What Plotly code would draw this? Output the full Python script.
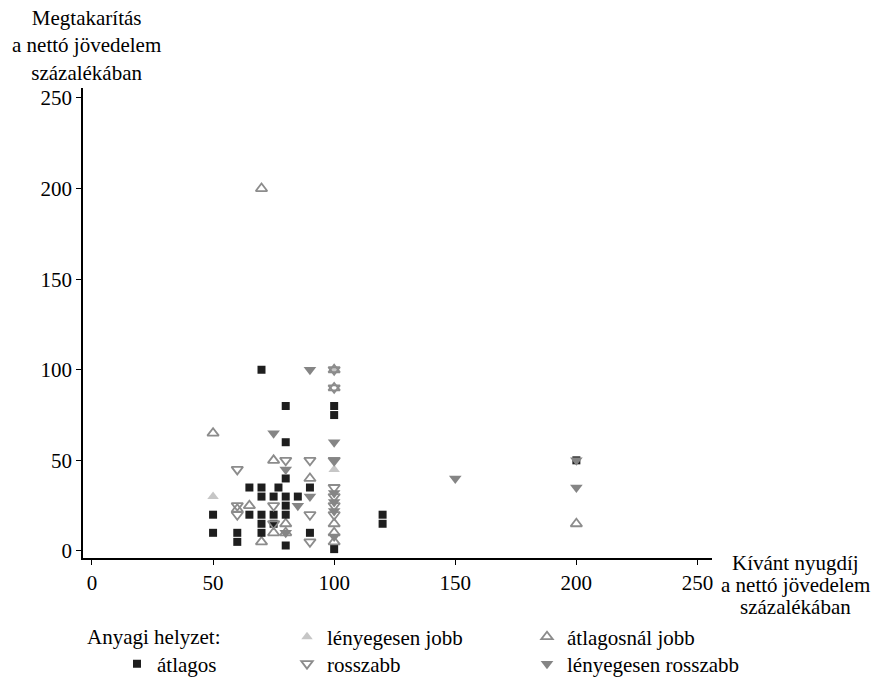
import plotly.graph_objects as go

# ---- data ----
lenyeg_jobb_x = [50, 100, 100]
lenyeg_jobb_y = [30, 45, 100]

atl_jobb_x = [50, 60, 65, 70, 70, 75, 75, 80, 80, 90, 100, 100, 100, 100, 100, 200]
atl_jobb_y = [65, 23, 25, 200, 5, 50, 10, 15, 10, 40, 100, 90, 15, 10, 5, 15]

atlagos_x = [50, 50, 60, 60, 65, 65, 70, 70, 70, 70, 70, 70, 75, 75, 75, 77,
             80, 80, 80, 80, 80, 80, 80, 85, 90, 90, 100, 100, 100, 120, 120, 200]
atlagos_y = [20, 10, 10, 5, 35, 20, 100, 35, 30, 20, 15, 10, 30, 20, 15, 35,
             80, 60, 40, 30, 25, 20, 3, 30, 35, 10, 80, 75, 1, 20, 15, 50]

rosszabb_x = [60, 60, 60, 75, 75, 80, 90, 90, 90, 100, 100, 100, 100, 100, 100, 100]
rosszabb_y = [45, 25, 20, 25, 15, 50, 50, 20, 5, 100, 90, 50, 35, 30, 25, 20]

lenyeg_rossz_x = [75, 80, 80, 85, 90, 90, 100, 100, 100, 100, 100, 100, 150, 200, 200]
lenyeg_rossz_y = [65, 45, 10, 25, 100, 30, 60, 50, 32, 27, 22, 8, 40, 50, 35]

ticks = [0, 50, 100, 150, 200, 250]
x_title_lines = ["Kívánt nyugdíj", "a nettó jövedelem", "százalékában"]

FONT = "Liberation Serif"
FS = 21

fig = go.Figure()

fig.add_trace(go.Scatter(
    x=lenyeg_jobb_x, y=lenyeg_jobb_y, mode="markers", name="lényegesen jobb",
    marker=dict(symbol="triangle-up", size=10, color="#c6c6c6", line=dict(width=0)),
    legend="legend"))
fig.add_trace(go.Scatter(
    x=atl_jobb_x, y=atl_jobb_y, mode="markers", name="átlagosnál jobb",
    marker=dict(symbol="triangle-up-open", size=10, color="#8c8c8c", line=dict(width=1.8)),
    legend="legend"))
fig.add_trace(go.Scatter(
    x=atlagos_x, y=atlagos_y, mode="markers", name="átlagos",
    marker=dict(symbol="square", size=8, color="#1e1e1e", line=dict(width=0)),
    legend="legend3"))
fig.add_trace(go.Scatter(
    x=rosszabb_x, y=rosszabb_y, mode="markers", name="rosszabb",
    marker=dict(symbol="triangle-down-open", size=10, color="#8c8c8c", line=dict(width=1.8)),
    legend="legend2"))
fig.add_trace(go.Scatter(
    x=lenyeg_rossz_x, y=lenyeg_rossz_y, mode="markers", name="lényegesen rosszabb",
    marker=dict(symbol="triangle-down", size=11, color="#858585", line=dict(width=0)),
    legend="legend2"))

L, R, T, B = 83, 170, 88, 119
W, H = 882, 677
PW = W - L - R
PH = H - T - B

def px2x(px):
    return (px - L) / PW

def py2y(py):
    return (H - B - py) / PH

def cx(px):
    return px / W

def cy(py):
    return 1 - py / H

leg_common = dict(orientation="h", font=dict(family=FONT, size=FS, color="black"),
                  bgcolor="rgba(0,0,0,0)", entrywidth=195, entrywidthmode="pixels",
                  xref="container", yref="container",
                  xanchor="left", yanchor="middle", itemclick=False,
                  itemdoubleclick=False)

annotations = [
    dict(text="Megtakarítás<br>a nettó jövedelem<br>százalékában",
         xref="paper", yref="paper", x=px2x(86), y=py2y(4),
         xanchor="center", yanchor="top", align="center", showarrow=False,
         font=dict(family=FONT, size=FS, color="black")),
    dict(text="Anyagi helyzet:",
         xref="paper", yref="paper", x=px2x(85), y=py2y(637),
         xanchor="left", yanchor="middle", showarrow=False,
         font=dict(family=FONT, size=FS, color="black")),
]
for i, line in enumerate(x_title_lines):
    annotations.append(dict(
        text=line, xref="paper", yref="paper", x=px2x(795), y=py2y(563 + 22 * i),
        xanchor="center", yanchor="middle", align="center", showarrow=False,
        font=dict(family=FONT, size=FS, color="black")))

fig.update_layout(
    width=W, height=H,
    margin=dict(l=L, r=R, t=T, b=B, autoexpand=False),
    paper_bgcolor="white", plot_bgcolor="white",
    font=dict(family=FONT, size=FS, color="black"),
    showlegend=True,
    legend=dict(x=cx(287), y=cy(637), **leg_common),
    legend2=dict(x=cx(287), y=cy(664), **leg_common),
    legend3=dict(x=cx(117), y=cy(664), **leg_common),
    xaxis=dict(range=[-3.7, 256], tickvals=ticks, showgrid=False, zeroline=False,
               showline=True, linecolor="black", linewidth=1.5,
               ticks="outside", ticklen=5, tickwidth=1, tickcolor="black",
               tickfont=dict(family=FONT, size=FS, color="black")),
    yaxis=dict(range=[-3.9, 255.5], tickvals=ticks, showgrid=False, zeroline=False,
               showline=True, linecolor="black", linewidth=1.5,
               ticks="outside", ticklen=5, tickwidth=1, tickcolor="black",
               tickfont=dict(family=FONT, size=FS, color="black")),
    annotations=annotations,
)

fig.write_html("out.html")
